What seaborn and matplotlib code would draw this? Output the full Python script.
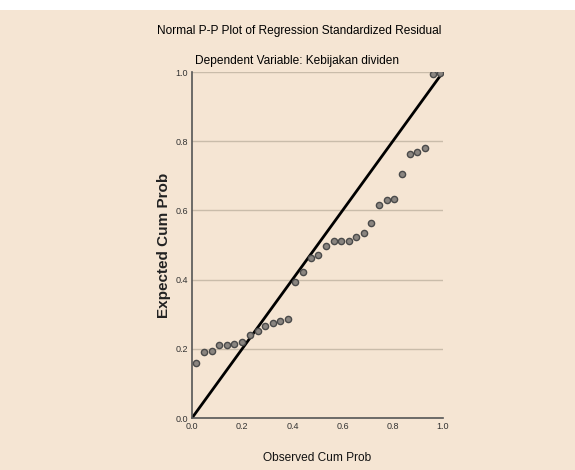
import pandas as pd
import matplotlib.pyplot as plt
import seaborn as sns
import numpy as np
from matplotlib.patches import Rectangle

observed = [0.017, 0.048, 0.079, 0.109, 0.139, 0.169, 0.200, 0.231, 0.261, 0.291,
            0.321, 0.351, 0.381, 0.412, 0.443, 0.473, 0.503, 0.533, 0.564, 0.593,
            0.624, 0.655, 0.684, 0.715, 0.745, 0.776, 0.805, 0.836, 0.867, 0.897,
            0.928, 0.959, 0.989]
expected = [0.158, 0.190, 0.194, 0.210, 0.210, 0.214, 0.219, 0.241, 0.251, 0.266,
            0.275, 0.280, 0.286, 0.394, 0.422, 0.462, 0.472, 0.496, 0.512, 0.512,
            0.512, 0.524, 0.535, 0.563, 0.615, 0.629, 0.634, 0.705, 0.763, 0.770,
            0.779, 0.993, 0.996]
ticks = [0.0, 0.2, 0.4, 0.6, 0.8, 1.0]

df = pd.DataFrame({'observed': observed, 'expected': expected})

bg = '#f5e5d3'
sns.set_style('white')
plt.rcParams['font.family'] = ['Liberation Sans', 'DejaVu Sans']

fig = plt.figure(figsize=(5.75, 4.7), dpi=100, facecolor=bg)
fig.patches.append(Rectangle((0, 1 - 10 / 470), 1, 10 / 470, transform=fig.transFigure,
                             facecolor='white', edgecolor='none', zorder=0))
ax = fig.add_axes([192 / 575, 52 / 470, 251 / 575, 346 / 470])
ax.set_facecolor(bg)

for t in ticks[1:]:
    ax.axhline(t, color='#c9bcaa', lw=1, zorder=1)

ax.plot([0, 1], [0, 1], color='black', lw=2, zorder=2)
sns.scatterplot(data=df, x='observed', y='expected', ax=ax, s=20,
                color='#8a8580', edgecolor='#4a4a4a', linewidth=1.0, zorder=3)

ax.set_xlim(0, 1)
ax.set_ylim(0, 1)
ax.set_xticks(ticks)
ax.set_yticks(ticks)
ax.set_xticklabels([f'{t:.1f}' for t in ticks], fontsize=6.5, color='#333333')
ax.set_yticklabels([f'{t:.1f}' for t in ticks], fontsize=6.5, color='#333333')
ax.tick_params(length=0, pad=3)
for s in ['top', 'right']:
    ax.spines[s].set_visible(False)
for s in ['left', 'bottom']:
    ax.spines[s].set_color('#555555')
    ax.spines[s].set_linewidth(1.2)

ax.set_xlabel('Observed Cum Prob', fontsize=8.6, color='#111111', labelpad=15)
ax.set_ylabel('Expected Cum Prob', fontsize=11, fontweight='bold', color='#222222',
              labelpad=3)

fig.text(299 / 575, 1 - 31 / 470, 'Normal P-P Plot of Regression Standardized Residual',
         ha='center', va='center', fontsize=8.6, color='#000000')
fig.text(297 / 575, 1 - 61 / 470, 'Dependent Variable: Kebijakan dividen',
         ha='center', va='center', fontsize=8.6, color='#000000')

fig.savefig('out.png', dpi=100, facecolor=bg)
